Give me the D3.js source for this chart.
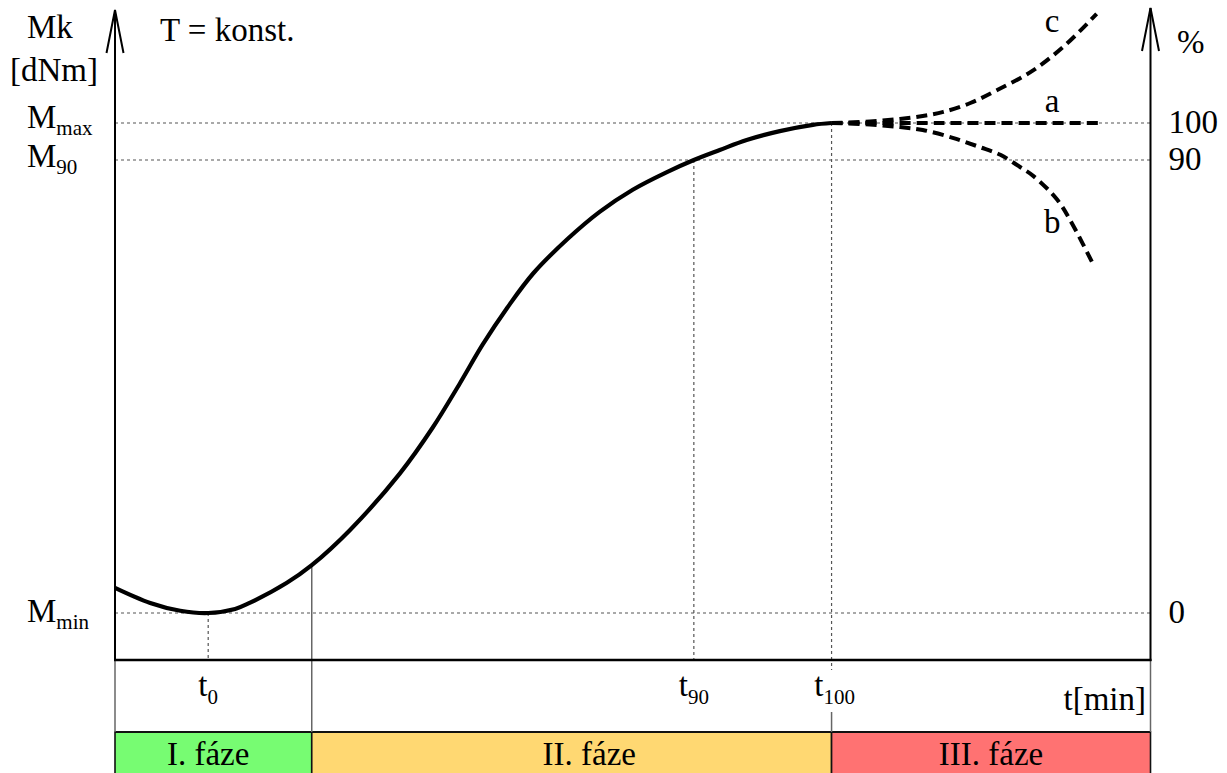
<!DOCTYPE html>
<html>
<head>
<meta charset="utf-8">
<script src="https://cdn.jsdelivr.net/npm/d3@7"></script>
<style>
  html, body { margin: 0; padding: 0; background: #fff; }
  svg { display: block; }
  text { font-family: "Liberation Serif", "DejaVu Serif", "Times New Roman", Times, serif; }
</style>
</head>
<body>
<svg id="chart" width="1227" height="773"></svg>
<script>
// Vulcanisation curve: torque Mk versus time at constant temperature.
// Time in minutes (schematic units), torque as % of the Mmin..Mmax span.

const curveT = [0, 3.4, 6.3, 9, 11.6, 13.0, 16.6, 19.0, 22.7, 27.5, 30.7, 33.3, 35.5, 37.9, 40.4, 43.7, 46.8, 50.0, 53.3, 55.9, 58.4, 61.0, 64.2, 67.4, 69.2];
const curveM = [5.0, 2.0, 0.45, 0, 0.8, 2.0, 6.0, 9.5, 16.5, 27.7, 36.9, 45.6, 53.3, 60.7, 67.5, 74.3, 79.7, 84.1, 87.6, 90.0, 92.7, 95.4, 97.8, 99.5, 100];

// Behaviour after t100: a = plateau, b = reversion, c = marching cure
const branchNames = ["a", "b", "c"];
const branchT = [
  [69.2, 80, 95.2],
  [69.2, 72.9, 75.8, 78.0, 80.9, 83.5, 85.5, 87.4, 88.7, 91.0, 92.5, 94.6],
  [69.2, 72.9, 75.8, 78.0, 80.0, 82.6, 85.2, 88.7, 91.9, 94.8]
];
const branchM = [
  [100, 100, 100],
  [100, 99.6, 98.9, 98.1, 96.0, 93.5, 91.4, 88.6, 86.8, 82.1, 77.1, 68.7],
  [100, 100.4, 101.1, 101.9, 103.0, 105.4, 108.9, 114.3, 121.4, 129.5]
];
const branchLabelT = [90.5, 90.5, 90.5];
const branchLabelM = [103.0, 75.5, 124.6];

// Reference torque levels
const levelNames = ["max", "90", "min"];
const levelValues = [100, 90, 0];
const percentLabels = ["100", "90", "0"];

// Characteristic times
const timeNames = ["0", "90", "100"];
const timeValues = [9, 55.9, 69.2];

// Cure phases
const phaseNames = ["I. fáze", "II. fáze", "III. fáze"];
const phaseStart = [0, 19.0, 69.2];
const phaseEnd = [19.0, 69.2, 100];
const phaseLabelT = [9.0, 45.8, 84.6];

// ---- layout ----
const W = 1227, H = 773;
const topY = 10, baseY = 660, phaseTop = 732;
const phaseColors = ["#77fc72", "#ffd872", "#ff7272"];
const FS = 33, FS_SUB = 21;

const svg = d3.select("#chart");
const x = d3.scaleLinear().domain([0, 100]).range([115, 1150.5]);
const y = d3.scaleLinear().domain([0, 90, 100]).range([613, 160, 123]);

const x0 = x(0), x1 = x(100);
const dotted = { stroke: "#555", width: 1.2, dash: "3,3" };

// ---- phase band ----
const phases = phaseNames.map((n, i) => ({ n, s: phaseStart[i], e: phaseEnd[i], lt: phaseLabelT[i], c: phaseColors[i] }));
svg.append("g").selectAll("rect").data(phases).join("rect")
  .attr("x", d => x(d.s)).attr("y", phaseTop)
  .attr("width", d => x(d.e) - x(d.s)).attr("height", H - phaseTop + 4)
  .attr("fill", d => d.c).attr("stroke", "#111").attr("stroke-width", 1.6);
svg.append("line").attr("x1", x0).attr("x2", x1).attr("y1", phaseTop).attr("y2", phaseTop)
  .attr("stroke", "#111").attr("stroke-width", 2.2);
svg.append("g").selectAll("text").data(phases).join("text")
  .attr("x", d => x(d.lt)).attr("y", 765).attr("text-anchor", "middle")
  .attr("font-size", FS).text(d => d.n);

// ---- table borders below the time axis ----
const frame = svg.append("g").attr("stroke", "#666").attr("stroke-width", 1.5);
frame.append("line").attr("x1", x0).attr("x2", x0).attr("y1", baseY).attr("y2", phaseTop);
frame.append("line").attr("x1", x1).attr("x2", x1).attr("y1", baseY).attr("y2", phaseTop);
frame.append("line").attr("x1", x(phaseStart[1])).attr("x2", x(phaseStart[1]))
  .attr("y1", y(curveM[curveT.indexOf(phaseStart[1])])).attr("y2", phaseTop);
frame.append("line").attr("x1", x(timeValues[2])).attr("x2", x(timeValues[2]))
  .attr("y1", 712).attr("y2", phaseTop);

// ---- dotted guide lines ----
const guides = svg.append("g").attr("stroke", dotted.stroke)
  .attr("stroke-width", dotted.width).attr("stroke-dasharray", dotted.dash);
guides.selectAll("line.h").data(levelValues).join("line").attr("class", "h")
  .attr("x1", x0).attr("x2", x1).attr("y1", d => y(d)).attr("y2", d => y(d));
const timeLevel = [0, 90, 100];
guides.selectAll("line.v").data(timeValues).join("line").attr("class", "v")
  .attr("x1", d => x(d)).attr("x2", d => x(d))
  .attr("y1", (d, i) => y(timeLevel[i])).attr("y2", (d, i) => i === 2 ? 670 : baseY);

// ---- axes ----
const axes = svg.append("g").attr("stroke", "#000").attr("fill", "none").attr("stroke-width", 2);
axes.append("line").attr("x1", x0).attr("x2", x0).attr("y1", topY).attr("y2", baseY + 1);
axes.append("line").attr("x1", x1).attr("x2", x1).attr("y1", topY - 2).attr("y2", baseY + 1);
axes.append("line").attr("x1", x0 - 1).attr("x2", x1 + 1).attr("y1", baseY).attr("y2", baseY).attr("stroke-width", 2.4);
[x0, x1].forEach((ax, i) => {
  const tip = i === 0 ? topY : topY - 2;
  axes.append("path").attr("d", `M${ax - 8.5},${tip + 43} L${ax},${tip} L${ax + 8.5},${tip + 43}`);
});

// ---- curves ----
const line = d3.line().x(d => x(d[0])).y(d => y(d[1])).curve(d3.curveCatmullRom.alpha(0.5));
branchNames.forEach((n, i) => {
  const pts = branchT[i].map((t, j) => [t, branchM[i][j]]);
  svg.append("path").attr("d", line(pts)).attr("fill", "none")
    .attr("stroke", "#000").attr("stroke-width", 4).attr("stroke-dasharray", "11,6");
});
svg.append("path").attr("d", line(curveT.map((t, i) => [t, curveM[i]])))
  .attr("fill", "none").attr("stroke", "#000").attr("stroke-width", 4.2);

svg.append("g").selectAll("text").data(branchNames).join("text")
  .attr("x", (d, i) => x(branchLabelT[i])).attr("y", (d, i) => y(branchLabelM[i]))
  .attr("text-anchor", "middle").attr("font-size", FS).text(d => d);

// ---- text labels ----
const txt = (tx, ty, s, anchor) => svg.append("text").attr("x", tx).attr("y", ty)
  .attr("font-size", FS).attr("text-anchor", anchor || "start").text(s);
txt(27, 38, "Mk");
txt(10, 81, "[dNm]");
txt(160, 41, "T = konst.");
txt(1177, 53, "%");
txt(1146, 710, "t[min]", "end");

// torque levels on the left axis
levelNames.forEach((n, i) => {
  const t = svg.append("text").attr("x", 27).attr("y", y(levelValues[i]) + [5, 7, 9][i]).attr("font-size", FS);
  t.append("tspan").text("M");
  t.append("tspan").attr("dy", 7).attr("font-size", FS_SUB).text(n);
});
// percent levels on the right axis
percentLabels.forEach((p, i) => {
  txt(x1 + 18, y(levelValues[i]) + 10, p);
});
// characteristic times
timeNames.forEach((n, i) => {
  const t = svg.append("text").attr("x", x(timeValues[i]) + (i === 2 ? 3 : 0)).attr("y", 696)
    .attr("font-size", FS).attr("text-anchor", "middle");
  t.append("tspan").text("t");
  t.append("tspan").attr("dy", 8).attr("font-size", FS_SUB).text(n);
});
</script>
</body>
</html>
